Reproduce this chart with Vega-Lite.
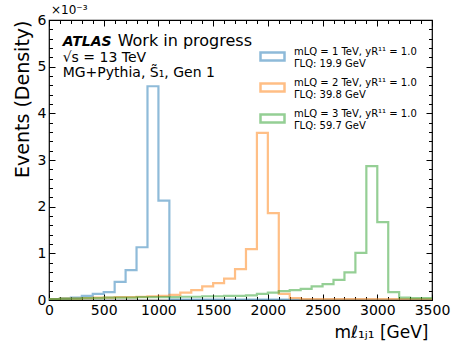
{
  "$schema": "https://vega.github.io/schema/vega-lite/v6.json",
  "width": 383,
  "height": 280,
  "autosize": {"type": "none"},
  "padding": {"left": 49, "top": 20, "right": 19, "bottom": 48},
  "background": "white",
  "config": {
    "view": {"stroke": "black", "strokeWidth": 1.2},
    "font": "DejaVu Sans",
    "axis": {"grid": false, "domain": false, "labelFont": "DejaVu Sans", "titleFont": "DejaVu Sans", "tickColor": "black", "labelColor": "black", "titleColor": "black"}
  },
  "datasets": {
    "hist": [
      {"sample": "m1", "m": 0, "density": 0.02}, {"sample": "m1", "m": 100, "density": 0.03}, {"sample": "m1", "m": 200, "density": 0.05}, {"sample": "m1", "m": 300, "density": 0.09}, {"sample": "m1", "m": 400, "density": 0.13}, {"sample": "m1", "m": 500, "density": 0.17}, {"sample": "m1", "m": 600, "density": 0.39}, {"sample": "m1", "m": 700, "density": 0.64}, {"sample": "m1", "m": 800, "density": 1.13}, {"sample": "m1", "m": 900, "density": 4.58}, {"sample": "m1", "m": 1000, "density": 2.13}, {"sample": "m1", "m": 1100, "density": 0.01}, {"sample": "m1", "m": 1200, "density": 0.01}, {"sample": "m1", "m": 1300, "density": 0.01}, {"sample": "m1", "m": 1400, "density": 0.01}, {"sample": "m1", "m": 1500, "density": 0.01}, {"sample": "m1", "m": 1600, "density": 0.01}, {"sample": "m1", "m": 1700, "density": 0.01}, {"sample": "m1", "m": 1800, "density": 0.01}, {"sample": "m1", "m": 1900, "density": 0.01}, {"sample": "m1", "m": 2000, "density": 0.01}, {"sample": "m1", "m": 2100, "density": 0.01}, {"sample": "m1", "m": 2200, "density": 0.005}, {"sample": "m1", "m": 2300, "density": 0.005}, {"sample": "m1", "m": 2400, "density": 0.005}, {"sample": "m1", "m": 2500, "density": 0.005}, {"sample": "m1", "m": 2600, "density": 0.005}, {"sample": "m1", "m": 2700, "density": 0.005}, {"sample": "m1", "m": 2800, "density": 0.005}, {"sample": "m1", "m": 2900, "density": 0.005}, {"sample": "m1", "m": 3000, "density": 0.005}, {"sample": "m1", "m": 3100, "density": 0.005}, {"sample": "m1", "m": 3200, "density": 0.005}, {"sample": "m1", "m": 3300, "density": 0.005}, {"sample": "m1", "m": 3400, "density": 0.005}, {"sample": "m1", "m": 3500, "density": 0.005},
      {"sample": "m2", "m": 0, "density": 0.02}, {"sample": "m2", "m": 100, "density": 0.03}, {"sample": "m2", "m": 200, "density": 0.03}, {"sample": "m2", "m": 300, "density": 0.04}, {"sample": "m2", "m": 400, "density": 0.05}, {"sample": "m2", "m": 500, "density": 0.05}, {"sample": "m2", "m": 600, "density": 0.06}, {"sample": "m2", "m": 700, "density": 0.06}, {"sample": "m2", "m": 800, "density": 0.07}, {"sample": "m2", "m": 900, "density": 0.08}, {"sample": "m2", "m": 1000, "density": 0.09}, {"sample": "m2", "m": 1100, "density": 0.11}, {"sample": "m2", "m": 1200, "density": 0.16}, {"sample": "m2", "m": 1300, "density": 0.21}, {"sample": "m2", "m": 1400, "density": 0.29}, {"sample": "m2", "m": 1500, "density": 0.36}, {"sample": "m2", "m": 1600, "density": 0.46}, {"sample": "m2", "m": 1700, "density": 0.66}, {"sample": "m2", "m": 1800, "density": 1.09}, {"sample": "m2", "m": 1900, "density": 3.58}, {"sample": "m2", "m": 2000, "density": 1.86}, {"sample": "m2", "m": 2100, "density": 0.13}, {"sample": "m2", "m": 2200, "density": 0.04}, {"sample": "m2", "m": 2300, "density": 0.02}, {"sample": "m2", "m": 2400, "density": 0.02}, {"sample": "m2", "m": 2500, "density": 0.02}, {"sample": "m2", "m": 2600, "density": 0.02}, {"sample": "m2", "m": 2700, "density": 0.02}, {"sample": "m2", "m": 2800, "density": 0.02}, {"sample": "m2", "m": 2900, "density": 0.02}, {"sample": "m2", "m": 3000, "density": 0.02}, {"sample": "m2", "m": 3100, "density": 0.02}, {"sample": "m2", "m": 3200, "density": 0.02}, {"sample": "m2", "m": 3300, "density": 0.02}, {"sample": "m2", "m": 3400, "density": 0.02}, {"sample": "m2", "m": 3500, "density": 0.02},
      {"sample": "m3", "m": 0, "density": 0.02}, {"sample": "m3", "m": 100, "density": 0.03}, {"sample": "m3", "m": 200, "density": 0.03}, {"sample": "m3", "m": 300, "density": 0.04}, {"sample": "m3", "m": 400, "density": 0.04}, {"sample": "m3", "m": 500, "density": 0.05}, {"sample": "m3", "m": 600, "density": 0.05}, {"sample": "m3", "m": 700, "density": 0.05}, {"sample": "m3", "m": 800, "density": 0.06}, {"sample": "m3", "m": 900, "density": 0.06}, {"sample": "m3", "m": 1000, "density": 0.06}, {"sample": "m3", "m": 1100, "density": 0.06}, {"sample": "m3", "m": 1200, "density": 0.07}, {"sample": "m3", "m": 1300, "density": 0.07}, {"sample": "m3", "m": 1400, "density": 0.08}, {"sample": "m3", "m": 1500, "density": 0.08}, {"sample": "m3", "m": 1600, "density": 0.09}, {"sample": "m3", "m": 1700, "density": 0.09}, {"sample": "m3", "m": 1800, "density": 0.10}, {"sample": "m3", "m": 1900, "density": 0.13}, {"sample": "m3", "m": 2000, "density": 0.16}, {"sample": "m3", "m": 2100, "density": 0.19}, {"sample": "m3", "m": 2200, "density": 0.21}, {"sample": "m3", "m": 2300, "density": 0.24}, {"sample": "m3", "m": 2400, "density": 0.29}, {"sample": "m3", "m": 2500, "density": 0.34}, {"sample": "m3", "m": 2600, "density": 0.43}, {"sample": "m3", "m": 2700, "density": 0.59}, {"sample": "m3", "m": 2800, "density": 1.01}, {"sample": "m3", "m": 2900, "density": 2.87}, {"sample": "m3", "m": 3000, "density": 1.67}, {"sample": "m3", "m": 3100, "density": 0.17}, {"sample": "m3", "m": 3200, "density": 0.05}, {"sample": "m3", "m": 3300, "density": 0.04}, {"sample": "m3", "m": 3400, "density": 0.04}, {"sample": "m3", "m": 3500, "density": 0.04}
    ]
  },
  "data": {"name": "hist"},
  "resolve": {"axis": {"x": "independent", "y": "independent"}},
  "layer": [
    {
      "mark": {"type": "line", "interpolate": "step-after", "strokeWidth": 2.2, "strokeOpacity": 0.5, "clip": true},
      "encoding": {
        "x": {"field": "m", "type": "quantitative", "scale": {"domain": [0, 3500], "nice": false, "zero": false},
          "axis": {"orient": "bottom", "values": [0, 500, 1000, 1500, 2000, 2500, 3000, 3500], "format": "d", "ticks": false, "labelFontSize": 14, "labelPadding": 3, "labelFlush": false, "title": "mℓ₁ⱼ₁ [GeV]", "titleFontSize": 17, "titleFontWeight": "normal", "titleAnchor": "end", "titleAlign": "right", "titleX": 379, "titlePadding": 7}},
        "y": {"field": "density", "type": "quantitative", "scale": {"domain": [0, 6], "nice": false, "zero": true},
          "axis": {"orient": "left", "values": [0, 1, 2, 3, 4, 5, 6], "format": "d", "ticks": false, "labelFontSize": 14, "labelPadding": 3, "labelFlush": false, "title": "Events (Density)", "titleFontSize": 19, "titleFontWeight": "normal", "titleAnchor": "end", "titlePadding": 5}},
        "color": {"field": "sample", "type": "nominal",
          "scale": {"domain": ["m1", "m2", "m3"], "range": ["#1f77b4", "#ff7f0e", "#2ca02c"]},
          "legend": {"orient": "none", "legendX": 214, "legendY": 27, "title": null,
            "labelExpr": "datum.value == 'm1' ? ['mLQ = 1 TeV, yR¹¹ = 1.0', 'ΓLQ: 19.9 GeV'] : datum.value == 'm2' ? ['mLQ = 2 TeV, yR¹¹ = 1.0', 'ΓLQ: 39.8 GeV'] : ['mLQ = 3 TeV, yR¹¹ = 1.0', 'ΓLQ: 59.7 GeV']",
            "labelFontSize": 10, "labelFont": "DejaVu Sans", "labelLimit": 300, "labelColor": "black", "labelBaseline": "bottom", "labelLineHeight": 14,
            "symbolType": "M-1.5,-0.5H1.5V0.5H-1.5Z", "symbolSize": 256, "symbolStrokeWidth": 2.5, "symbolFillColor": "transparent", "symbolOpacity": 0.5,
            "rowPadding": 8, "labelOffset": 12}}
      }
    },
    {
      "mark": {"type": "point", "opacity": 0},
      "encoding": {
        "x": {"field": "m", "type": "quantitative", "axis": {"orient": "bottom", "values": [0, 500, 1000, 1500, 2000, 2500, 3000, 3500], "tickSize": -6, "labels": false, "title": null}},
        "y": {"field": "density", "type": "quantitative", "axis": {"orient": "left", "values": [0, 1, 2, 3, 4, 5, 6], "tickSize": -6, "labels": false, "title": null}}
      }
    },
    {
      "mark": {"type": "point", "opacity": 0},
      "encoding": {
        "x": {"field": "m", "type": "quantitative", "axis": {"orient": "bottom", "values": [100, 200, 300, 400, 600, 700, 800, 900, 1100, 1200, 1300, 1400, 1600, 1700, 1800, 1900, 2100, 2200, 2300, 2400, 2600, 2700, 2800, 2900, 3100, 3200, 3300, 3400], "tickSize": -3.5, "labels": false, "title": null}},
        "y": {"field": "density", "type": "quantitative", "axis": {"orient": "left", "values": [0.2, 0.4, 0.6, 0.8, 1.2, 1.4, 1.6, 1.8, 2.2, 2.4, 2.6, 2.8, 3.2, 3.4, 3.6, 3.8, 4.2, 4.4, 4.6, 4.8, 5.2, 5.4, 5.6, 5.8], "tickSize": -3.5, "labels": false, "title": null}}
      }
    },
    {
      "mark": {"type": "point", "opacity": 0},
      "encoding": {
        "x": {"field": "m", "type": "quantitative", "axis": {"orient": "top", "values": [0, 500, 1000, 1500, 2000, 2500, 3000, 3500], "tickSize": -6, "labels": false, "title": null}},
        "y": {"field": "density", "type": "quantitative", "axis": {"orient": "right", "values": [0, 1, 2, 3, 4, 5, 6], "tickSize": -6, "labels": false, "title": null}}
      }
    },
    {
      "mark": {"type": "point", "opacity": 0},
      "encoding": {
        "x": {"field": "m", "type": "quantitative", "axis": {"orient": "top", "values": [100, 200, 300, 400, 600, 700, 800, 900, 1100, 1200, 1300, 1400, 1600, 1700, 1800, 1900, 2100, 2200, 2300, 2400, 2600, 2700, 2800, 2900, 3100, 3200, 3300, 3400], "tickSize": -3.5, "labels": false, "title": null}},
        "y": {"field": "density", "type": "quantitative", "axis": {"orient": "right", "values": [0.2, 0.4, 0.6, 0.8, 1.2, 1.4, 1.6, 1.8, 2.2, 2.4, 2.6, 2.8, 3.2, 3.4, 3.6, 3.8, 4.2, 4.4, 4.6, 4.8, 5.2, 5.4, 5.6, 5.8], "tickSize": -3.5, "labels": false, "title": null}}
      }
    },
    {
      "data": {"values": [{"t": "ATLAS"}]},
      "mark": {"type": "text", "align": "left", "baseline": "alphabetic", "fontSize": 14, "fontWeight": "bold", "fontStyle": "italic", "font": "DejaVu Sans"},
      "encoding": {"text": {"field": "t"}, "x": {"datum": 125, "type": "quantitative", "axis": null}, "y": {"datum": 5.44, "type": "quantitative", "axis": null}}
    },
    {
      "data": {"values": [{"t": "Work in progress"}]},
      "mark": {"type": "text", "align": "left", "baseline": "alphabetic", "fontSize": 16, "font": "DejaVu Sans", "dx": 55},
      "encoding": {"text": {"field": "t"}, "x": {"datum": 125, "type": "quantitative", "axis": null}, "y": {"datum": 5.44, "type": "quantitative", "axis": null}}
    },
    {
      "data": {"values": [{"t": "√s = 13 TeV"}]},
      "mark": {"type": "text", "align": "left", "baseline": "alphabetic", "fontSize": 14, "font": "DejaVu Sans"},
      "encoding": {"text": {"field": "t"}, "x": {"datum": 125, "type": "quantitative", "axis": null}, "y": {"datum": 5.1, "type": "quantitative", "axis": null}}
    },
    {
      "data": {"values": [{"t": "MG+Pythia, S̃₁, Gen 1"}]},
      "mark": {"type": "text", "align": "left", "baseline": "alphabetic", "fontSize": 14, "font": "DejaVu Sans"},
      "encoding": {"text": {"field": "t"}, "x": {"datum": 125, "type": "quantitative", "axis": null}, "y": {"datum": 4.78, "type": "quantitative", "axis": null}}
    },
    {
      "data": {"values": [{"t": "×10⁻³"}]},
      "mark": {"type": "text", "align": "left", "baseline": "bottom", "fontSize": 12, "font": "DejaVu Sans", "dx": 2, "dy": -3},
      "encoding": {"text": {"field": "t"}, "x": {"datum": 0, "type": "quantitative", "axis": null}, "y": {"datum": 6, "type": "quantitative", "axis": null}}
    }
  ]
}
